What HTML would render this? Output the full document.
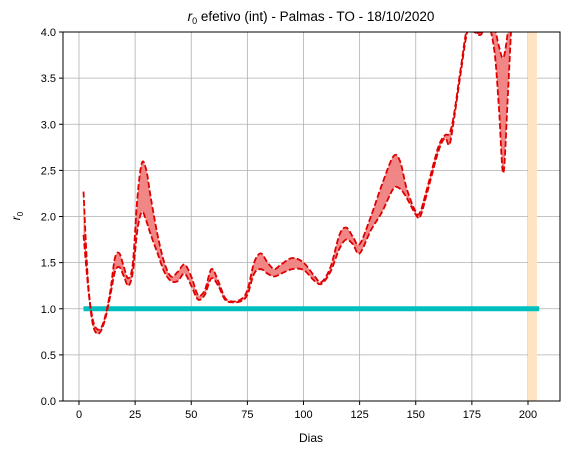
<!DOCTYPE html>
<html><head><meta charset="utf-8"><style>
body{margin:0;background:#fff;}
svg text{font-family:"Liberation Sans","DejaVu Sans",sans-serif;}
</style></head><body>
<svg id="chart" width="568" height="454" xmlns="http://www.w3.org/2000/svg">
<defs><clipPath id="clip"><rect x="63" y="32" width="497" height="369"/></clipPath></defs>
<rect x="0" y="0" width="568" height="454" fill="#fff"/>
<g id="grid"></g>
<g id="marks" clip-path="url(#clip)"></g>
<rect x="63" y="32" width="497" height="369" fill="none" stroke="#000" stroke-width="1"/>
<g id="axes"></g>
<text x="311" y="21" text-anchor="middle" font-size="13.5"><tspan font-style="italic">r</tspan><tspan font-size="9" dy="3">0</tspan><tspan dy="-3"> efetivo (int) - Palmas - TO - 18/10/2020</tspan></text>
<text x="311" y="442" text-anchor="middle" font-size="12">Dias</text>
<text transform="translate(20,216) rotate(-90)" text-anchor="middle" font-size="12"><tspan font-style="italic">r</tspan><tspan font-size="8" dy="3">0</tspan></text>
</svg>
<script>
const days=[2,4,6,8,10,12,14,16,18,20,22,24,26,28,30,32,35,38,41,44,47,50,53,56,59,62,65,68,72,75,78,81,84,87,90,95,100,105,108,112,116,119,122,125,130,135,140,143,146,150,152,155,160,163,165,167,170,173,176,179,182,185,187,189,191,193];
const upper=[2.27,1.3,0.9,0.78,0.8,0.95,1.2,1.55,1.6,1.45,1.33,1.5,2.2,2.58,2.5,2.2,1.8,1.5,1.35,1.4,1.48,1.35,1.15,1.2,1.43,1.3,1.12,1.08,1.1,1.2,1.5,1.6,1.5,1.43,1.48,1.55,1.5,1.35,1.29,1.45,1.8,1.88,1.78,1.7,2.0,2.35,2.65,2.6,2.3,2.05,2.05,2.3,2.75,2.88,2.9,3.1,3.6,4.05,4.0,4.0,4.1,4.05,3.85,3.72,4.0,4.5];
const lower=[1.8,1.25,0.85,0.73,0.77,0.92,1.15,1.4,1.45,1.35,1.25,1.4,1.85,2.05,1.95,1.8,1.6,1.4,1.3,1.3,1.38,1.25,1.1,1.15,1.33,1.25,1.1,1.07,1.08,1.15,1.38,1.43,1.38,1.35,1.38,1.43,1.42,1.3,1.27,1.4,1.65,1.75,1.7,1.6,1.85,2.05,2.3,2.3,2.2,2.02,2.0,2.25,2.7,2.85,2.78,3.05,3.55,4.0,4.0,3.97,4.1,3.8,3.2,2.47,3.3,4.3];
const xTicks=[0,25,50,75,100,125,150,175,200];
const yTicks=[0,0.5,1.0,1.5,2.0,2.5,3.0,3.5,4.0];
const refLine=[2,205,1.0];
const band=[200,204];
const X=d=>79+d*2.245, Y=v=>401-v*92.25;
const NS="http://www.w3.org/2000/svg";
function mk(t,a,p){const e=document.createElementNS(NS,t);for(const k in a)e.setAttribute(k,a[k]);p.appendChild(e);return e;}
function smooth(pts,start){let s=start?('M'+pts[0][0]+','+pts[0][1]):'';
 for(let i=0;i<pts.length-1;i++){const p0=pts[Math.max(0,i-1)],p1=pts[i],p2=pts[i+1],p3=pts[Math.min(pts.length-1,i+2)];
  const c1=[p1[0]+(p2[0]-p0[0])/6,p1[1]+(p2[1]-p0[1])/6],c2=[p2[0]-(p3[0]-p1[0])/6,p2[1]-(p3[1]-p1[1])/6];
  s+=' C'+c1[0]+','+c1[1]+' '+c2[0]+','+c2[1]+' '+p2[0]+','+p2[1];}
 return s;}
const grid=document.getElementById('grid'),axes=document.getElementById('axes'),marks=document.getElementById('marks');
xTicks.forEach(t=>{const x=X(t);
 const g=mk('line',{x1:x,x2:x,y1:32,y2:401,stroke:'#b0b0b0','stroke-width':0.8},grid);
 
 mk('line',{x1:x,x2:x,y1:401,y2:405,stroke:'#000'},axes);
 const l=mk('text',{x:x,y:418,'text-anchor':'middle','font-size':11},axes);l.textContent=t;
 });
yTicks.forEach(t=>{const y=Y(t);
 const g=mk('line',{x1:63,x2:560,y1:y,y2:y,stroke:'#b0b0b0','stroke-width':0.8},grid);
 
 mk('line',{x1:59,x2:63,y1:y,y2:y,stroke:'#000'},axes);
 const l=mk('text',{x:56,y:y+4,'text-anchor':'end','font-size':11},axes);l.textContent=t.toFixed(1);
 });
const b=mk('rect',{x:X(band[0]),y:32,width:X(band[1])-X(band[0]),height:369,fill:'#ffe4c4'},marks);

const up=days.map((d,i)=>[X(d),Y(upper[i])]);
const lo=days.map((d,i)=>[X(d),Y(lower[i])]);
const loR=lo.slice().reverse();
const fd=smooth(up,true)+' L'+loR[0][0]+','+loR[0][1]+smooth(loR,false)+' Z';
const f=mk('path',{d:fd,fill:'#f08080','fill-opacity':0.95},marks);

const r=mk('line',{x1:X(refLine[0]),x2:X(refLine[1]),y1:Y(refLine[2]),y2:Y(refLine[2]),stroke:'#00bfbf','stroke-width':5},marks);

const u=mk('path',{d:smooth(up,true),fill:'none',stroke:'#e00000','stroke-width':1.8,'stroke-dasharray':'6,2.5'},marks);

const w=mk('path',{d:smooth(lo,true),fill:'none',stroke:'#e00000','stroke-width':1.8,'stroke-dasharray':'6,2.5'},marks);

</script>
</body></html>
